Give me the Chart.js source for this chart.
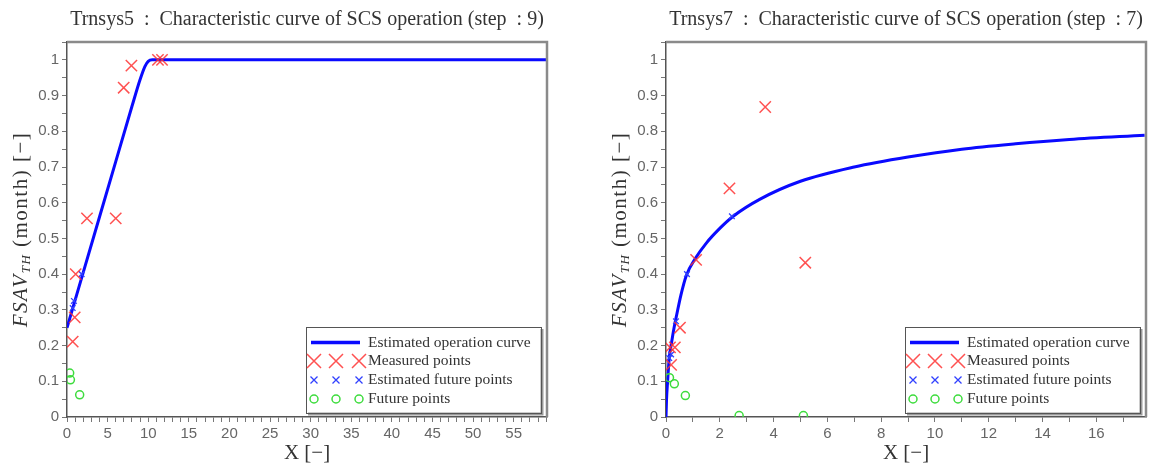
<!DOCTYPE html>
<html>
<head>
<meta charset="utf-8">
<script src="https://cdn.jsdelivr.net/npm/chart.js@4.4.1/dist/chart.umd.min.js"></script>
<style>
  html, body { margin: 0; padding: 0; background: #fff; overflow: hidden; }
  #wrap { position: relative; width: 1149px; height: 466px; }
  .box { position: absolute; top: 0; height: 466px; }
</style>
</head>
<body>
<div id="wrap">
  <div class="box" style="left:0;width:575px"><canvas id="c5"></canvas></div>
  <div class="box" style="left:575px;width:574px"><canvas id="c7"></canvas></div>
</div>
<script>
// --- Trnsys5 (step 9) ---
const t5CurveX = [0, 2, 4, 6, 8, 9, 9.6, 10, 10.5, 11, 59];
const t5CurveY = [0.25, 0.405, 0.56, 0.715, 0.87, 0.945, 0.982, 0.996, 1.0, 1.0, 1.0];
const t5MeasX = [0.7, 0.95, 1.07, 2.46, 6.0, 6.98, 7.93, 11.2, 11.7];
const t5MeasY = [0.211, 0.279, 0.40, 0.556, 0.556, 0.922, 0.984, 1.0, 1.0];
const t5EstX = [0.7, 0.85, 1.8];
const t5EstY = [0.305, 0.325, 0.40];
const t5FutX = [0.33, 0.42, 1.56];
const t5FutY = [0.123, 0.104, 0.062];

// --- Trnsys7 (step 7) ---
const t7CurveX = [0, 0.02, 0.06, 0.12, 0.2, 0.3, 0.4, 0.55, 0.75, 1.1, 1.5, 2.0, 2.5, 3.5, 5, 7, 9, 11, 13, 15, 17.8];
const t7CurveY = [0, 0.05, 0.10, 0.165, 0.205, 0.25, 0.287, 0.34, 0.395, 0.445, 0.487, 0.528, 0.562, 0.61, 0.66, 0.70, 0.728, 0.75, 0.765, 0.777, 0.789];
const t7MeasX = [0.19, 0.15, 0.33, 0.52, 1.12, 2.36, 3.69, 5.18];
const t7MeasY = [0.146, 0.195, 0.195, 0.25, 0.44, 0.64, 0.868, 0.432];
const t7EstX = [0.12, 0.19, 0.37, 0.78, 2.45];
const t7EstY = [0.165, 0.175, 0.268, 0.40, 0.562];
const t7FutX = [0.13, 0.31, 0.72, 2.72, 5.11];
const t7FutY = [0.11, 0.093, 0.06, 0.004, 0.004];

const legendLabels = ["Estimated operation curve", "Measured points", "Estimated future points", "Future points"];

const BLUE = "#0a0aff";
const RED = "rgba(255,50,50,0.85)";
const EBLUE = "#3040ff";
const GREEN = "#3ddc3d";
const SERIF = "'Liberation Serif', 'DejaVu Serif', serif";
const SANS = "'Liberation Sans', Arial, sans-serif";

const zip = (xs, ys) => xs.map((x, i) => ({ x, y: ys[i] }));

function drawCross(ctx, x, y, r, color, w) {
  ctx.save();
  ctx.strokeStyle = color;
  ctx.lineWidth = w;
  ctx.beginPath();
  ctx.moveTo(x - r, y - r); ctx.lineTo(x + r, y + r);
  ctx.moveTo(x - r, y + r); ctx.lineTo(x + r, y - r);
  ctx.stroke();
  ctx.restore();
}

const decorPlugin = {
  id: "decor",
  afterDraw(chart) {
    const ctx = chart.ctx;
    const a = chart.chartArea;
    const o = chart.options.plugins.decor;
    ctx.save();
    // frame top + right
    ctx.strokeStyle = "#8a8a8a";
    ctx.lineWidth = 2.5;
    ctx.beginPath();
    ctx.moveTo(a.left, a.top);
    ctx.lineTo(a.right, a.top);
    ctx.lineTo(a.right, a.bottom);
    ctx.stroke();

    // title
    ctx.fillStyle = "#333";
    ctx.font = "20px " + SERIF;
    ctx.textAlign = "center";
    ctx.textBaseline = "middle";
    ctx.fillText(o.title, (a.left + a.right) / 2, 20);

    // y label with subscript
    ctx.save();
    ctx.translate(a.left - 46, (a.top + a.bottom) / 2);
    ctx.rotate(-Math.PI / 2);
    ctx.letterSpacing = "1.5px";
    ctx.textAlign = "left";
    ctx.textBaseline = "middle";
    const p1 = "FSAV", p2 = "TH", p3 = " (month) [\u2212]";
    ctx.font = "italic 21px " + SERIF;
    const w1 = ctx.measureText(p1).width;
    ctx.font = "italic 13px " + SERIF;
    const w2 = ctx.measureText(p2).width;
    ctx.font = "21px " + SERIF;
    const w3 = ctx.measureText(p3).width;
    let x0 = -(w1 + w2 + w3) / 2;
    ctx.font = "italic 21px " + SERIF;
    ctx.fillText(p1, x0, 0);
    ctx.font = "italic 13px " + SERIF;
    ctx.fillText(p2, x0 + w1, 6);
    ctx.font = "21px " + SERIF;
    ctx.fillText(p3, x0 + w1 + w2, 0);
    ctx.restore();

    // legend box
    const lw = 235, lh = 86;
    const lx = a.right - 6 - lw, ly = a.bottom - 4 - lh;
    ctx.fillStyle = "#fff";
    ctx.fillRect(lx, ly, lw, lh);
    ctx.strokeStyle = "#9a9a9a";
    ctx.lineWidth = 3;
    ctx.beginPath();
    ctx.moveTo(lx + lw + 1, ly + 2);
    ctx.lineTo(lx + lw + 1, ly + lh + 1);
    ctx.lineTo(lx + 2, ly + lh + 1);
    ctx.stroke();
    ctx.strokeStyle = "#555";
    ctx.lineWidth = 1;
    ctx.strokeRect(lx + 0.5, ly + 0.5, lw, lh);

    const rows = [15.5, 34, 53, 72];
    const mx = [8, 30, 53];
    ctx.strokeStyle = BLUE;
    ctx.lineWidth = 3.5;
    ctx.beginPath();
    ctx.moveTo(lx + 5, ly + rows[0]);
    ctx.lineTo(lx + 54, ly + rows[0]);
    ctx.stroke();
    mx.forEach((m) => {
      drawCross(ctx, lx + m, ly + rows[1], 7, RED, 1.5);
      drawCross(ctx, lx + m, ly + rows[2], 3.5, EBLUE, 1.3);
      ctx.strokeStyle = GREEN;
      ctx.lineWidth = 1.5;
      ctx.beginPath();
      ctx.arc(lx + m, ly + rows[3], 4, 0, Math.PI * 2);
      ctx.stroke();
    });
    ctx.fillStyle = "#333";
    ctx.font = "15.5px " + SERIF;
    ctx.textAlign = "left";
    ctx.textBaseline = "middle";
    legendLabels.forEach((t, i) => ctx.fillText(t, lx + 62, ly + rows[i]));
    ctx.restore();
  },
};

function makeChart(id, cfg) {
  const tickFmt = (major) => (v) => {
    const r = v / major;
    return Math.abs(r - Math.round(r)) < 1e-6 ? String(Number(v.toFixed(2))) : "";
  };
  return new Chart(document.getElementById(id), {
    data: {
      datasets: [
        {
          type: "line",
          data: zip(cfg.curveX, cfg.curveY),
          borderColor: BLUE,
          borderWidth: 3,
          pointRadius: 0,
          cubicInterpolationMode: "monotone",
          order: 5,
        },
        {
          type: "scatter",
          data: zip(cfg.measX, cfg.measY),
          pointStyle: "crossRot",
          pointRadius: 8,
          borderColor: RED,
          borderWidth: 1.5,
          order: 1,
        },
        {
          type: "scatter",
          data: zip(cfg.estX, cfg.estY),
          pointStyle: "crossRot",
          pointRadius: 4,
          borderColor: EBLUE,
          borderWidth: 1.3,
          order: 2,
        },
        {
          type: "scatter",
          data: zip(cfg.futX, cfg.futY),
          pointStyle: "circle",
          pointRadius: 4,
          borderColor: GREEN,
          backgroundColor: "rgba(0,0,0,0)",
          borderWidth: 1.5,
          order: 3,
        },
      ],
    },
    options: {
      responsive: true,
      maintainAspectRatio: false,
      animation: false,
      layout: {
        autoPadding: false,
        padding: { top: 42, right: cfg.padRight, left: 0, bottom: 0 },
      },
      plugins: {
        legend: { display: false },
        tooltip: { enabled: false },
        decor: { title: cfg.title },
      },
      scales: {
        x: {
          type: "linear",
          min: 0,
          max: cfg.xMax,
          afterFit: (s) => { s.height = 49; s.paddingRight = 0; s.paddingLeft = 0; },
          grid: { drawOnChartArea: false, tickLength: 5, color: "#777" },
          border: { color: "#555", width: 1.5 },
          ticks: {
            stepSize: cfg.xMinor,
            autoSkip: false,
            includeBounds: false,
            maxRotation: 0,
            padding: 3,
            color: "#666",
            font: { family: SANS, size: 15 },
            callback: tickFmt(cfg.xMajor),
          },
          title: {
            display: true,
            text: "X [\u2212]",
            color: "#333",
            font: { family: SERIF, size: 21 },
            padding: { top: 0, bottom: 0 },
          },
        },
        y: {
          type: "linear",
          min: 0,
          max: 1.05,
          afterFit: (s) => { s.width = cfg.yWidth; s.paddingTop = 0; s.paddingBottom = 0; },
          grid: { drawOnChartArea: false, tickLength: 5, color: "#777" },
          border: { color: "#555", width: 1.5 },
          ticks: {
            stepSize: 0.05,
            autoSkip: false,
            includeBounds: false,
            padding: 3,
            color: "#666",
            font: { family: SANS, size: 15 },
            callback: tickFmt(0.1),
          },
        },
      },
    },
    plugins: [decorPlugin],
  });
}

makeChart("c5", {
  title: "Trnsys5  :  Characteristic curve of SCS operation (step  : 9)",
  curveX: t5CurveX, curveY: t5CurveY,
  measX: t5MeasX, measY: t5MeasY,
  estX: t5EstX, estY: t5EstY,
  futX: t5FutX, futY: t5FutY,
  xMax: 59.1, xMinor: 1, xMajor: 5,
  yWidth: 67, padRight: 28,
});

makeChart("c7", {
  title: "Trnsys7  :  Characteristic curve of SCS operation (step  : 7)",
  curveX: t7CurveX, curveY: t7CurveY,
  measX: t7MeasX, measY: t7MeasY,
  estX: t7EstX, estY: t7EstY,
  futX: t7FutX, futY: t7FutY,
  xMax: 17.85, xMinor: 1, xMajor: 2,
  yWidth: 91, padRight: 3,
});
</script>
</body>
</html>
